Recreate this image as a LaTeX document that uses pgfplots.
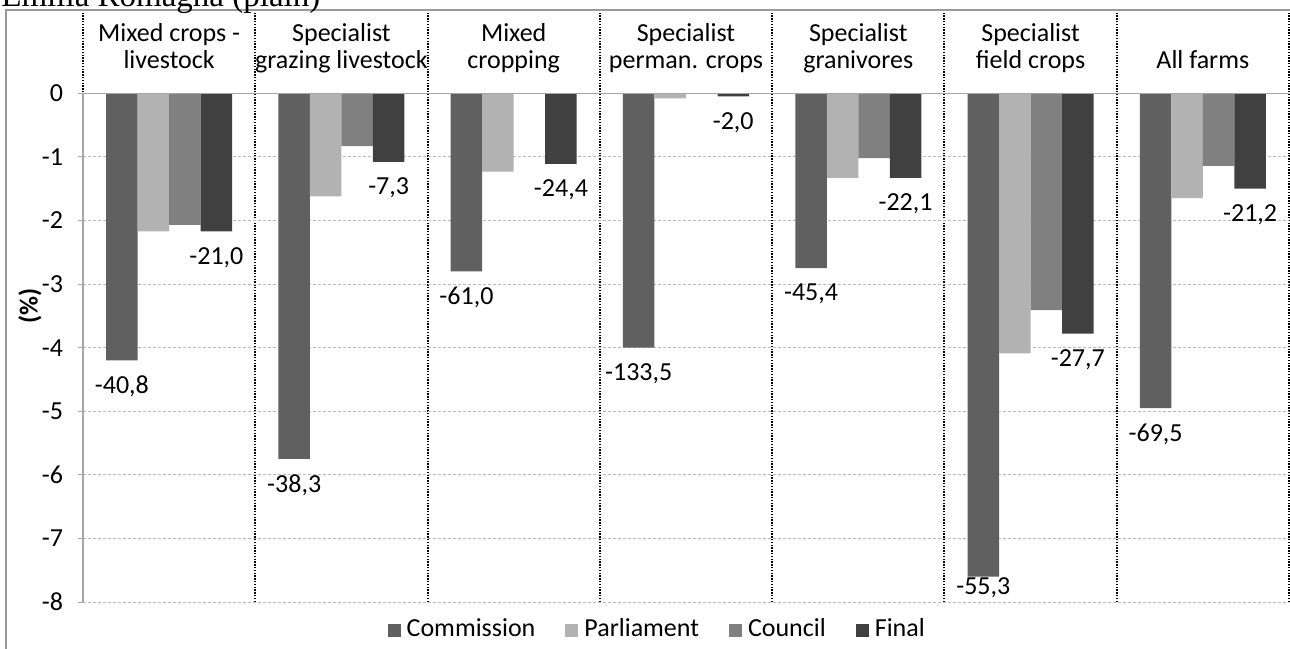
\documentclass[border=0pt]{standalone}
\usepackage{fontspec}
\setmainfont{Carlito}
\newfontfamily\titlefont{Liberation Serif}
\usepackage{pgfplots}
\usepackage{pgfplotstable}
\pgfplotsset{compat=1.18}
\definecolor{cCom}{RGB}{96,96,96}
\definecolor{cPar}{RGB}{178,178,178}
\definecolor{cCou}{RGB}{128,128,128}
\definecolor{cFin}{RGB}{64,64,64}
\newcommand\fs{\fontsize{13}{15.5}\selectfont}
\newcommand\tl[2]{{\renewcommand\arraystretch{0.84}\begin{tabular}[b]{@{}c@{}}#1\\#2\end{tabular}}}
\newcommand\ol[1]{\begin{tabular}[b]{@{}c@{}}#1\end{tabular}}

\pgfplotstableread{
x y lab dy
0 -4.20 -40,8 13
1 -5.75 -38,3 13
2 -2.80 -61,0 13
3 -4.00 -133,5 13
4 -2.75 -45,4 13
5 -7.60 -55,3 5.5
6 -4.95 -69,5 13
}\tabcom
\pgfplotstableread{
x y
0 -2.17
1 -1.62
2 -1.23
3 -0.08
4 -1.33
5 -4.09
6 -1.65
}\tabpar
\pgfplotstableread{
x y
0 -2.07
1 -0.83
2 0
3 0
4 -1.02
5 -3.41
6 -1.14
}\tabcou
\pgfplotstableread{
x y lab dy
0 -2.17 -21,0 13
1 -1.08 -7,3 13
2 -1.11 -24,4 13
3 -0.05 -2,0 13
4 -1.33 -22,1 13
5 -3.78 -27,7 13
6 -1.50 -21,2 13
}\tabfin

\begin{document}
\fs
\begin{tikzpicture}
\useasboundingbox (-41.5pt,-23pt) rectangle (603.5pt,301pt);
\begin{axis}[
 at={(0,0)}, anchor=south west,
 scale only axis, width=603pt, height=296pt,
 xmin=-0.5, xmax=6.5, ymin=-8, ymax=1.31,
 clip=false,
 axis line style={draw=none},
 ybar=0pt, bar width=15.75pt,
 xtick={0,...,6},
 xticklabels={\tl{Mixed crops -}{livestock},\tl{Specialist}{grazing livestock},\tl{Mixed}{cropping},\tl{Specialist}{perman. crops},\tl{Specialist}{granivores},\tl{Specialist}{field crops},\ol{All farms}},
 xticklabel pos=upper,
 xticklabel style={anchor=base, yshift=-31.5pt, font=\fs},
 minor xtick={-0.5,0.5,...,6.5},
 xminorgrids,
 minor grid style={black, line width=1pt, dash pattern=on 0.7pt off 0.7pt},
 xtick style={draw=none},
 every minor tick/.append style={draw=none},
 ytick={-8,...,0},
 yticklabels={-8,-7,-6,-5,-4,-3,-2,-1,0},
 ymajorgrids,
 major grid style={gray!55, line width=0.4pt, dash pattern=on 1.5pt off 1pt},
 ytick pos=left,
 tick align=outside,
 major tick length=2.5pt,
 ytick style={gray!70, line width=0.5pt},
 yticklabel style={xshift=-3pt, font=\fs},
 ylabel={\textbf{(\%)}},
 ylabel style={at={(axis description cs:0,0.5)}, anchor=center, yshift=26.5pt, font=\fs},
 legend columns=4,
 legend style={draw=none, fill=none, font=\fs, at={(axis description cs:0.477,-0.047)}, anchor=center, /tikz/every even column/.append style={column sep=13pt}},
]
\addplot[fill=cCom, draw=none, nodes near coords, point meta=explicit symbolic,
  visualization depends on={\thisrow{dy} \as \dy},
  nodes near coords style={anchor=center, yshift=-\dy pt, font=\fs, text=black},
  legend image code/.code={\fill[cCom] (0pt,-3.5pt) rectangle (6.5pt,3pt);\path (7.5pt,0pt);}]
  table[x=x,y=y,meta=lab]{\tabcom};
\addlegendentry{Commission}
\addplot[fill=cPar, draw=none,
  legend image code/.code={\fill[cPar] (0pt,-3.5pt) rectangle (6.5pt,3pt);\path (7.5pt,0pt);}]
  table[x=x,y=y]{\tabpar};
\addlegendentry{Parliament}
\addplot[fill=cCou, draw=none,
  legend image code/.code={\fill[cCou] (0pt,-3.5pt) rectangle (6.5pt,3pt);\path (7.5pt,0pt);}]
  table[x=x,y=y]{\tabcou};
\addlegendentry{Council}
\addplot[fill=cFin, draw=none, nodes near coords, point meta=explicit symbolic,
  visualization depends on={\thisrow{dy} \as \dy},
  nodes near coords style={anchor=center, yshift=-\dy pt, font=\fs, text=black},
  legend image code/.code={\fill[cFin] (0pt,-3.5pt) rectangle (6.5pt,3pt);\path (7.5pt,0pt);}]
  table[x=x,y=y,meta=lab]{\tabfin};
\addlegendentry{Final}
\draw[gray!70, line width=0.6pt] (axis cs:-0.5,0) -- (axis cs:6.5,0);
\draw[gray!70, line width=0.6pt] (axis cs:-0.5,0) -- (axis cs:-0.5,-8);
\end{axis}
\draw[gray!80, line width=0.8pt] (-38.5pt,-30pt) -- (-38.5pt,296pt) -- (604pt,296pt);
\node[anchor=base west, font=\titlefont\fontsize{16.5}{18}\selectfont, inner sep=0pt] at (-41pt,297.5pt) {Emilia Romagna (plain)};
\end{tikzpicture}
\end{document}
